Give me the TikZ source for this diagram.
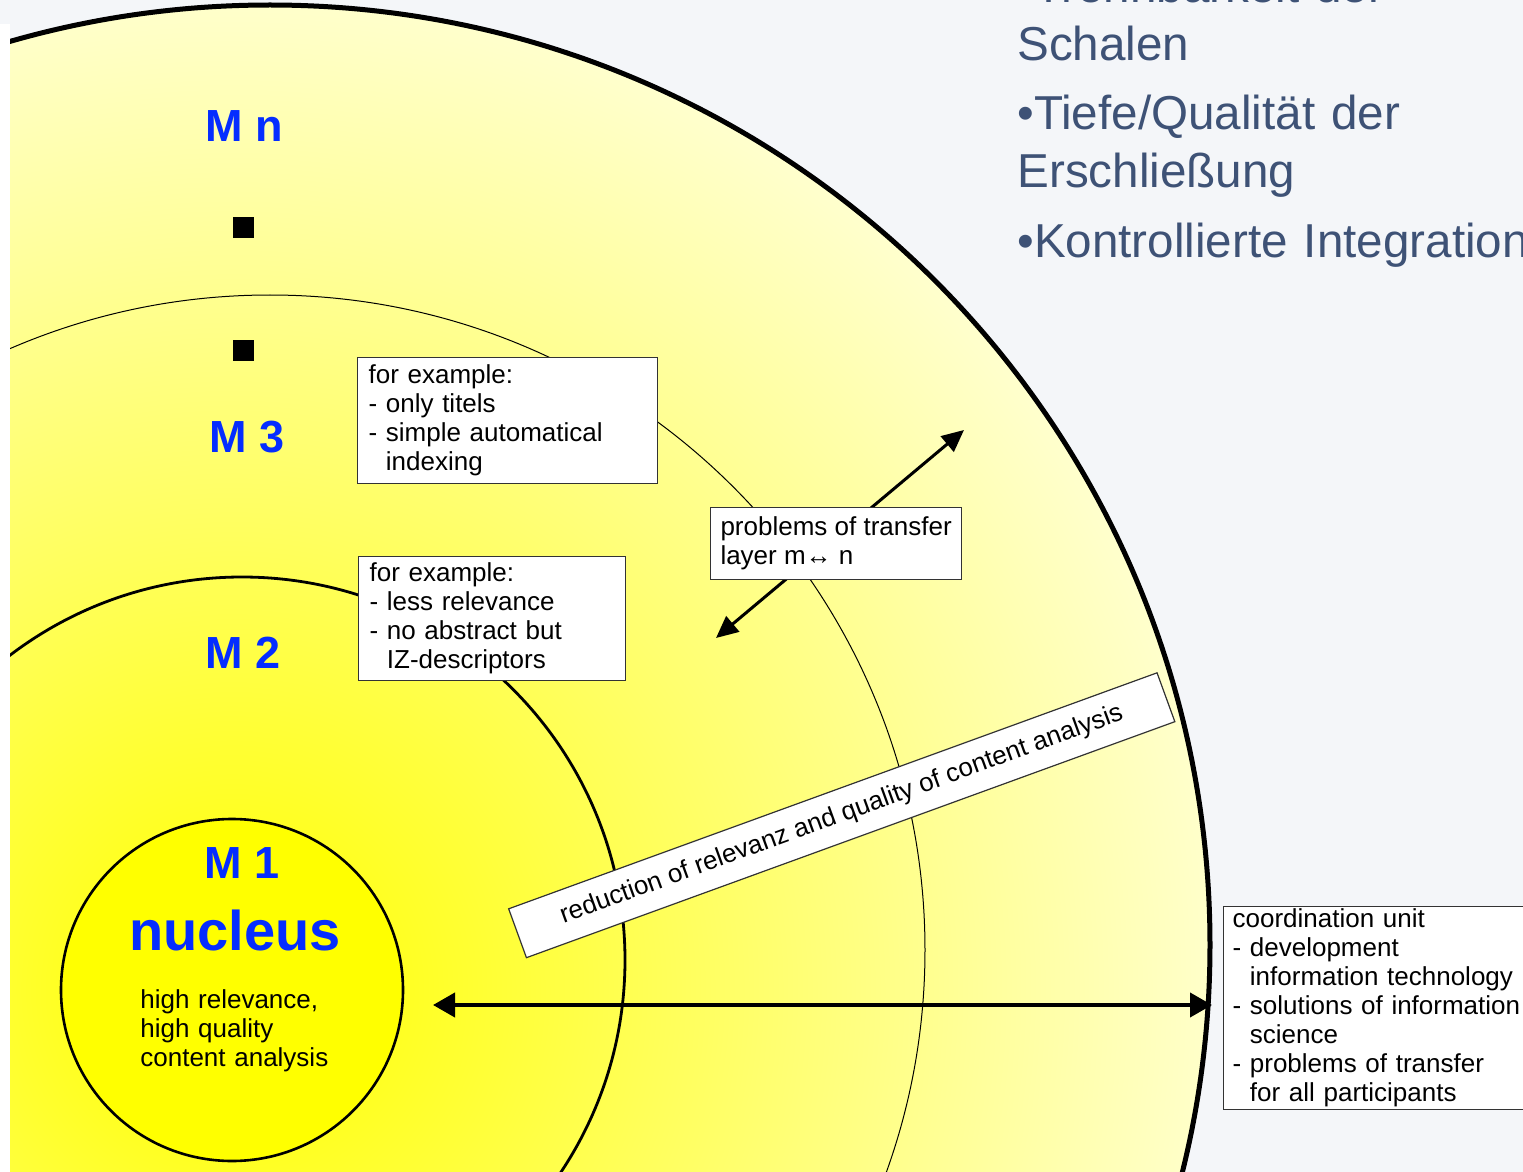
\documentclass[tikz,border=0pt]{standalone}
\usepackage{fontspec}
\setmainfont{Liberation Sans}
\usetikzlibrary{arrows.meta}
\definecolor{slidebg}{RGB}{244,246,249}
\definecolor{shellblue}{RGB}{5,45,255}
\definecolor{slidetext}{RGB}{62,82,118}
\definecolor{coreyellow}{RGB}{255,255,0}
\definecolor{rimyellow}{RGB}{255,255,206}
\newcommand\boxfont{\fontsize{13pt}{14.5pt}\selectfont}
\newcommand\shellfont{\fontsize{22.5pt}{26pt}\selectfont\bfseries}
\newcommand\cont{\phantom{- }}

\begin{document}
\begin{tikzpicture}[x=0.5pt,y=-0.5pt,>={Triangle[length=11pt,width=11pt]},
  box/.style={draw=black!80,line width=0.6pt,fill=white,font=\boxfont,
    align=left,anchor=north west,inner xsep=5.5pt,inner ysep=0pt},
  shell label/.style={text=shellblue,font=\shellfont,anchor=base,inner sep=0pt},
  dot/.style={fill=black,minimum size=10.5pt,inner sep=0pt}]
\useasboundingbox (0,0) rectangle (1523,1172);
\fill[slidebg] (0,0) rectangle (1523,1172);
% shells
\begin{scope}
  \clip (270,945) circle[radius=470pt];
  \shade[inner color=coreyellow,outer color=rimyellow] (232,990) circle[radius=500pt];
\end{scope}
\draw[line width=2.5pt] (270,945) circle[radius=470pt];
\draw[line width=0.5pt] (270,950) circle[radius=327.5pt];
\draw[line width=1.4pt] (242,960) circle[radius=191.5pt];
\draw[line width=1.3pt,fill=coreyellow] (232,990) circle[radius=85.5pt];
\fill[white] (0,24) rectangle (10,1172);

% shell names
\node[shell label] (Mn) at (244,142) {M n};
\node[dot] (dotA) at (243.5,227.5) {};
\node[dot] (dotB) at (243.5,350.5) {};
\node[shell label] (M3) at (247,452) {M 3};
\node[shell label] (M2) at (243,668) {M 2};
\node[shell label] (M1) at (242,878) {M 1};
\node[shell label,font=\fontsize{28pt}{32pt}\selectfont\bfseries] (nuc) at (235,950) {nucleus};
\node[font=\boxfont,text width=100pt,align=left,anchor=base west,inner sep=0pt]
  (nucText) at (140,1008) {high relevance,\\high quality\\content analysis};

% arrows
\coordinate (coreEdge) at (433,1005);
\coordinate (rimEdge) at (1212,1005);
\coordinate (innerEnd) at (716,638);
\coordinate (outerEnd) at (964,430);
\draw[<->,line width=2pt,>={Triangle[length=11pt,width=12pt]}] (coreEdge) -- (rimEdge);
\draw[<->,line width=1.5pt,>={Triangle[length=11pt,width=10pt]}] (innerEnd) -- (outerEnd);

% boxes
\node[box,text width=139pt,minimum height=63pt] (exThree) at (357,357)
  {for example:\\- only titels\\- simple automatical\\\cont indexing};
\node[box,text width=122.5pt,minimum height=62pt] (exTwo) at (358,556)
  {for example:\\- less relevance\\- no abstract but\\\cont IZ-descriptors};
\node[box,inner xsep=3pt,minimum width=125.5pt,minimum height=36pt] (transfer) at (710,507)
  {problems of transfer\\layer m↔ n};
\node[box,text width=150pt,inner xsep=4.5pt,minimum height=101.5pt] (coord) at (1223,906)
  {coordination unit\\- development\\\cont information technology\\- solutions of information\\\cont science\\- problems of transfer\\\cont for all participants};
\node[box,anchor=center,align=center,rotate=20,minimum width=345pt,minimum height=26pt]
  (reduce) at (841.75,815.25) {reduction of relevanz and quality of content analysis};

% slide text
\node[text=slidetext,font=\fontsize{23.8pt}{29pt}\selectfont,text width=300pt,
  align=left,anchor=base west,inner sep=0pt] (aims) at (1017,3)
  {•Trennbarkeit der\\Schalen\\[5.5pt]•Tiefe/Qualität der\\Erschließung\\[6pt]•Kontrollierte Integration};
\end{tikzpicture}
\end{document}
